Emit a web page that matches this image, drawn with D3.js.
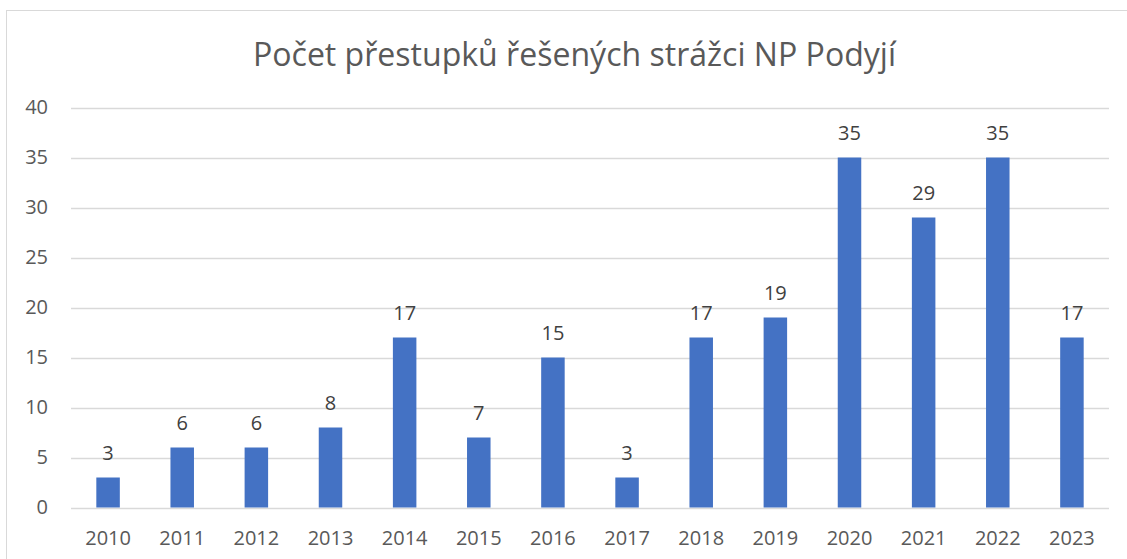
<!DOCTYPE html>
<html>
<head>
<meta charset="utf-8">
<script src="https://cdn.jsdelivr.net/npm/d3@7"></script>
<style>
html,body{margin:0;padding:0;background:#fff;}
svg{display:block;}
</style>
</head>
<body>
<svg id="chart" width="1127" height="559"></svg>
<script>
const title = "Počet přestupků řešených strážci NP Podyjí";
const categories = ["2010","2011","2012","2013","2014","2015","2016","2017","2018","2019","2020","2021","2022","2023"];
const values = [3,6,6,8,17,7,15,3,17,19,35,29,35,17];
const yTicks = [0,5,10,15,20,25,30,35,40];

(function(){
const svg = d3.select("#chart");
const font = "'Open Sans', 'Liberation Sans', sans-serif";
const textColor = "#595959";

// outer frame
svg.append("rect").attr("x",6.5).attr("y",10.5).attr("width",1140).attr("height",600)
  .attr("fill","#fff").attr("stroke","#d9d9d9").attr("stroke-width",1);

const pLeft = 71, pRight = 1109, pTop = 107.5, pBottom = 507.5;
const x = d3.scaleBand().domain(categories).range([pLeft,pRight]).paddingInner(0.683).paddingOuter(0.3415);
const y = d3.scaleLinear().domain([0,40]).range([pBottom,pTop]);

// gridlines
svg.append("g").selectAll("line").data(yTicks).join("line")
  .attr("x1",pLeft).attr("x2",pRight)
  .attr("y1",d=>Math.round(y(d))+0.5).attr("y2",d=>Math.round(y(d))+0.5)
  .attr("stroke","#d9d9d9").attr("stroke-width",1.3);

// y axis labels
const yAxis = d3.axisLeft(y).tickValues(yTicks).tickSize(0).tickPadding(0);
const gy = svg.append("g").attr("transform",`translate(48,0)`).call(yAxis);
gy.select(".domain").remove();
gy.selectAll("text").attr("fill",textColor).style("font-family",font).style("font-size","20px");

// x axis labels
const xAxis = d3.axisBottom(x).tickSize(0).tickPadding(0);
const gx = svg.append("g").attr("transform",`translate(0,${pBottom})`).call(xAxis);
gx.select(".domain").remove();
gx.selectAll("text").attr("dy",null).attr("y",37.5).attr("fill",textColor)
  .style("font-family",font).style("font-size","20px");

// bars
svg.append("g").selectAll("rect").data(values).join("rect")
  .attr("x",(d,i)=>x(categories[i]))
  .attr("width",x.bandwidth())
  .attr("y",d=>y(d))
  .attr("height",d=>y(0)-y(d))
  .attr("fill","#4472C4");

// data labels
svg.append("g").selectAll("text").data(values).join("text")
  .attr("x",(d,i)=>x(categories[i])+x.bandwidth()/2)
  .attr("y",d=>y(d)-18)
  .attr("text-anchor","middle")
  .attr("fill","#404040")
  .style("font-family",font).style("font-size","20px")
  .text(d=>d);

// title
const t = svg.append("text").attr("x",574.5).attr("y",66).attr("text-anchor","middle")
  .attr("fill",textColor).style("font-family",font).style("font-size","32px").text(title);
const w = t.node().getComputedTextLength();
t.style("font-size",(32*643/w).toFixed(2)+"px");
})();
</script>
</body>
</html>
